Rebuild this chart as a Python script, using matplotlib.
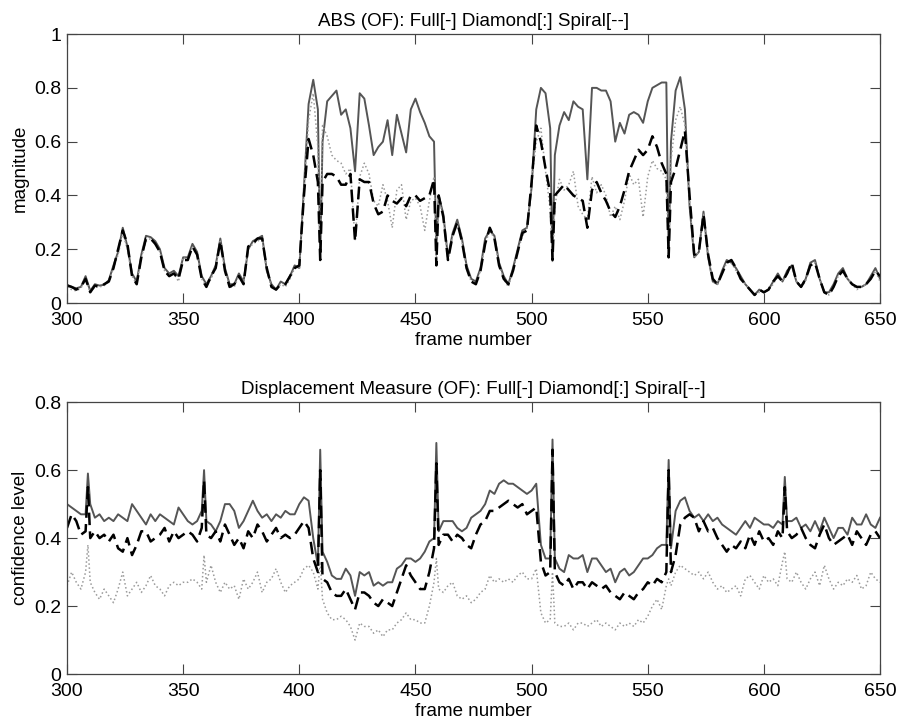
import numpy as np
import matplotlib.pyplot as plt

plt.rcParams['font.family'] = ['Liberation Sans', 'DejaVu Sans']

# frame numbers: every second frame plus the single frames where the spikes sit
top_frames = sorted(list(range(300, 651, 2)) + [409, 459, 509, 559])
bot_frames = sorted(list(range(300, 651, 2)) + [309, 359, 409, 459, 509, 559, 609])

# ABS (OF) magnitude
abs_full = [
    0.068, 0.06, 0.055, 0.06, 0.10, 0.045, 0.07, 0.065, 0.068, 0.085,
    0.14, 0.19, 0.28, 0.21, 0.11, 0.08, 0.18, 0.25, 0.245, 0.23,
    0.2, 0.13, 0.11, 0.12, 0.1, 0.17, 0.17, 0.22, 0.19, 0.1,
    0.07, 0.1, 0.14, 0.24, 0.13, 0.07, 0.07, 0.11, 0.08, 0.2,
    0.23, 0.24, 0.25, 0.12, 0.07, 0.05, 0.08, 0.07, 0.1, 0.14,
    0.13, 0.43, 0.74, 0.83, 0.72, 0.16, 0.6, 0.75, 0.77, 0.79, 0.7,
    0.72, 0.65, 0.49, 0.78, 0.76, 0.66, 0.55, 0.58, 0.6, 0.68,
    0.55, 0.7, 0.63, 0.56, 0.72, 0.76, 0.71, 0.67, 0.62, 0.6,
    0.2, 0.4, 0.33, 0.17, 0.26, 0.31, 0.24, 0.14, 0.09, 0.08, 0.13,
    0.24, 0.27, 0.25, 0.15, 0.1, 0.07, 0.13, 0.2, 0.27, 0.28,
    0.43, 0.72, 0.8, 0.78, 0.65, 0.16, 0.55, 0.66, 0.71, 0.68, 0.75,
    0.73, 0.72, 0.46, 0.8, 0.8, 0.79, 0.79, 0.75, 0.6, 0.67,
    0.63, 0.7, 0.71, 0.7, 0.67, 0.75, 0.8, 0.81, 0.82, 0.82,
    0.17, 0.6, 0.79, 0.84, 0.72, 0.36, 0.17, 0.19, 0.34, 0.17, 0.08,
    0.07, 0.12, 0.16, 0.15, 0.13, 0.1, 0.07, 0.05, 0.03, 0.05,
    0.04, 0.05, 0.08, 0.11, 0.08, 0.12, 0.14, 0.08, 0.06, 0.09,
    0.15, 0.16, 0.09, 0.04, 0.04, 0.07, 0.11, 0.13, 0.09, 0.07,
    0.06, 0.06, 0.07, 0.1, 0.13, 0.09,
]
abs_diamond = [
    0.06, 0.05, 0.045, 0.055, 0.09, 0.04, 0.06, 0.06, 0.065, 0.08,
    0.13, 0.18, 0.26, 0.2, 0.1, 0.07, 0.17, 0.23, 0.24, 0.22,
    0.19, 0.12, 0.1, 0.11, 0.08, 0.17, 0.16, 0.21, 0.18, 0.09,
    0.06, 0.09, 0.13, 0.23, 0.12, 0.06, 0.06, 0.1, 0.07, 0.2,
    0.22, 0.23, 0.24, 0.12, 0.06, 0.05, 0.07, 0.06, 0.09, 0.13,
    0.13, 0.42, 0.68, 0.78, 0.58, 0.18, 0.66, 0.62, 0.55, 0.53, 0.52,
    0.48, 0.5, 0.23, 0.47, 0.52, 0.48, 0.38, 0.36, 0.44, 0.38,
    0.28, 0.42, 0.44, 0.31, 0.38, 0.39, 0.36, 0.27, 0.38, 0.47,
    0.16, 0.39, 0.32, 0.16, 0.25, 0.3, 0.23, 0.13, 0.08, 0.07, 0.12,
    0.22, 0.27, 0.24, 0.14, 0.09, 0.06, 0.12, 0.19, 0.25, 0.27,
    0.45, 0.6, 0.65, 0.49, 0.35, 0.15, 0.36, 0.46, 0.42, 0.44, 0.49,
    0.36, 0.33, 0.31, 0.47, 0.41, 0.44, 0.4, 0.32, 0.36, 0.31,
    0.38, 0.48, 0.44, 0.46, 0.32, 0.47, 0.53, 0.5, 0.49, 0.46,
    0.17, 0.53, 0.68, 0.73, 0.66, 0.38, 0.17, 0.19, 0.33, 0.17, 0.08,
    0.07, 0.11, 0.15, 0.15, 0.12, 0.09, 0.07, 0.05, 0.03, 0.04,
    0.04, 0.05, 0.07, 0.1, 0.08, 0.11, 0.14, 0.08, 0.06, 0.08,
    0.14, 0.15, 0.09, 0.04, 0.03, 0.06, 0.1, 0.12, 0.09, 0.07,
    0.05, 0.06, 0.07, 0.09, 0.12, 0.08,
]
abs_spiral = [
    0.065, 0.06, 0.05, 0.06, 0.09, 0.04, 0.065, 0.06, 0.07, 0.08,
    0.13, 0.2, 0.27, 0.22, 0.1, 0.07, 0.17, 0.24, 0.24, 0.22,
    0.19, 0.12, 0.1, 0.11, 0.09, 0.16, 0.16, 0.21, 0.18, 0.09,
    0.06, 0.1, 0.13, 0.23, 0.12, 0.06, 0.07, 0.1, 0.07, 0.21,
    0.22, 0.24, 0.24, 0.13, 0.06, 0.05, 0.07, 0.07, 0.1, 0.13,
    0.14, 0.4, 0.61, 0.55, 0.45, 0.16, 0.45, 0.48, 0.48, 0.47, 0.44,
    0.44, 0.48, 0.23, 0.46, 0.45, 0.45, 0.37, 0.33, 0.34, 0.4,
    0.38, 0.37, 0.39, 0.36, 0.4, 0.4, 0.38, 0.39, 0.4, 0.46,
    0.14, 0.4, 0.32, 0.16, 0.25, 0.3, 0.23, 0.13, 0.08, 0.07, 0.12,
    0.22, 0.28, 0.24, 0.14, 0.09, 0.07, 0.12, 0.19, 0.26, 0.27,
    0.45, 0.66, 0.6, 0.5, 0.41, 0.16, 0.4, 0.42, 0.44, 0.42, 0.4,
    0.39, 0.38, 0.28, 0.42, 0.45, 0.41, 0.38, 0.34, 0.32, 0.36,
    0.42, 0.49, 0.53, 0.57, 0.55, 0.57, 0.62, 0.58, 0.52, 0.48,
    0.17, 0.45, 0.5, 0.57, 0.64, 0.4, 0.18, 0.19, 0.33, 0.18, 0.09,
    0.07, 0.11, 0.15, 0.16, 0.13, 0.09, 0.07, 0.05, 0.03, 0.05,
    0.04, 0.05, 0.08, 0.1, 0.08, 0.11, 0.15, 0.08, 0.06, 0.09,
    0.14, 0.15, 0.09, 0.04, 0.03, 0.06, 0.1, 0.12, 0.09, 0.07,
    0.06, 0.06, 0.07, 0.09, 0.12, 0.1,
]

# Displacement Measure (OF) confidence
dm_full = [
    0.5, 0.49, 0.48, 0.47, 0.47, 0.59,
    0.5, 0.46, 0.47, 0.45, 0.46,
    0.45, 0.47, 0.46, 0.45, 0.5, 0.48, 0.46, 0.44, 0.47, 0.45,
    0.47, 0.46, 0.45, 0.44, 0.49, 0.47, 0.45, 0.44, 0.45, 0.48,
    0.6, 0.45, 0.44, 0.42, 0.45, 0.5, 0.5, 0.48, 0.43, 0.45, 0.48,
    0.51, 0.48, 0.46, 0.47, 0.45, 0.47, 0.46, 0.48, 0.47, 0.47,
    0.5, 0.52, 0.51, 0.4, 0.32, 0.66,
    0.36, 0.33, 0.29, 0.28, 0.28,
    0.31, 0.29, 0.23, 0.3, 0.29, 0.3, 0.26, 0.27, 0.26, 0.27,
    0.27, 0.31, 0.32, 0.34, 0.34, 0.33, 0.34, 0.36, 0.39, 0.4, 0.68,
    0.42, 0.45, 0.45, 0.45, 0.43, 0.42, 0.43, 0.46, 0.47, 0.48,
    0.5, 0.54, 0.53, 0.56, 0.57, 0.56, 0.56, 0.55, 0.54, 0.53,
    0.54, 0.56, 0.38, 0.34, 0.34, 0.69,
    0.34, 0.31, 0.3, 0.35, 0.34,
    0.34, 0.35, 0.3, 0.34, 0.34, 0.32, 0.3, 0.31, 0.27, 0.3,
    0.31, 0.29, 0.3, 0.32, 0.34, 0.34, 0.35, 0.37, 0.38, 0.38, 0.63,
    0.37, 0.48, 0.51, 0.52, 0.48, 0.46, 0.47, 0.45, 0.47, 0.45,
    0.46, 0.44, 0.43, 0.42, 0.41, 0.43, 0.45, 0.43, 0.46, 0.45,
    0.44, 0.44, 0.43, 0.45, 0.44, 0.58,
    0.45, 0.45, 0.46, 0.43, 0.44,
    0.42, 0.45, 0.42, 0.46, 0.43, 0.4, 0.43, 0.43, 0.41, 0.46,
    0.44, 0.44, 0.47, 0.44, 0.43, 0.46,
]
dm_diamond = [
    0.26, 0.3, 0.27, 0.25, 0.3, 0.38,
    0.27, 0.24, 0.22, 0.25, 0.23,
    0.21, 0.25, 0.3, 0.23, 0.25, 0.27, 0.24, 0.26, 0.29, 0.26,
    0.25, 0.23, 0.26, 0.27, 0.26, 0.27, 0.27, 0.28, 0.27, 0.25,
    0.35, 0.27, 0.32, 0.27, 0.24, 0.27, 0.25, 0.26, 0.22, 0.28, 0.25,
    0.27, 0.3, 0.24, 0.27, 0.28, 0.31, 0.27, 0.24, 0.26, 0.27,
    0.28, 0.31, 0.32, 0.3, 0.25, 0.33,
    0.22, 0.18, 0.16, 0.16, 0.17,
    0.16, 0.14, 0.1, 0.15, 0.14, 0.14, 0.12, 0.13, 0.11, 0.13,
    0.13, 0.15, 0.16, 0.18, 0.16, 0.16, 0.15, 0.15, 0.2, 0.27, 0.34,
    0.25, 0.24, 0.26, 0.27, 0.23, 0.22, 0.23, 0.21, 0.22, 0.24,
    0.25, 0.29, 0.27, 0.28, 0.27, 0.28, 0.27, 0.29, 0.3, 0.28,
    0.28, 0.31, 0.18, 0.15, 0.16, 0.3,
    0.15, 0.14, 0.14, 0.15, 0.13,
    0.15, 0.15, 0.14, 0.15, 0.16, 0.14, 0.15, 0.14, 0.13, 0.15,
    0.14, 0.15, 0.14, 0.16, 0.15, 0.17, 0.2, 0.22, 0.19, 0.26, 0.28,
    0.26, 0.3, 0.32, 0.31, 0.3, 0.29, 0.3, 0.28, 0.3, 0.27,
    0.25, 0.26, 0.24, 0.25, 0.26, 0.23, 0.28, 0.29, 0.27, 0.25,
    0.29, 0.27, 0.28, 0.26, 0.33, 0.36,
    0.28, 0.27, 0.3, 0.27, 0.25,
    0.28, 0.3, 0.26, 0.32, 0.28, 0.25, 0.27, 0.26, 0.28, 0.27,
    0.29, 0.25, 0.26, 0.3, 0.28, 0.27,
]
dm_spiral = [
    0.43, 0.47, 0.45, 0.41, 0.42, 0.55,
    0.4, 0.42, 0.4, 0.41, 0.39,
    0.41, 0.37, 0.36, 0.4, 0.35, 0.38, 0.42, 0.42, 0.39, 0.4,
    0.41, 0.43, 0.39, 0.42, 0.4, 0.41, 0.42, 0.41, 0.39, 0.43,
    0.57, 0.41, 0.4, 0.42, 0.39, 0.44, 0.41, 0.38, 0.4, 0.37, 0.42,
    0.4, 0.44, 0.42, 0.39, 0.41, 0.43, 0.4, 0.41, 0.4, 0.41,
    0.43, 0.45, 0.43, 0.34, 0.3, 0.6,
    0.28, 0.27, 0.24, 0.23, 0.23,
    0.25, 0.22, 0.19, 0.24, 0.24, 0.23, 0.21, 0.2, 0.22, 0.21,
    0.2, 0.24, 0.28, 0.32, 0.29, 0.27, 0.25, 0.25, 0.3, 0.37, 0.62,
    0.38, 0.41, 0.41, 0.39, 0.41, 0.4, 0.38, 0.37, 0.41, 0.44,
    0.45, 0.48, 0.48, 0.49, 0.5, 0.51, 0.5, 0.49, 0.5, 0.47,
    0.48, 0.49, 0.33, 0.29, 0.3, 0.66,
    0.3, 0.27, 0.26, 0.28, 0.25,
    0.27, 0.27, 0.25, 0.27, 0.26, 0.25, 0.26, 0.24, 0.23, 0.22,
    0.24, 0.23, 0.22, 0.24, 0.25, 0.27, 0.26, 0.28, 0.27, 0.3, 0.6,
    0.3, 0.35, 0.44, 0.46, 0.47, 0.46, 0.42, 0.45, 0.42, 0.43,
    0.4, 0.38, 0.36, 0.38, 0.37, 0.39, 0.37, 0.41, 0.38, 0.42,
    0.39, 0.4, 0.38, 0.42, 0.4, 0.55,
    0.42, 0.4, 0.41, 0.43, 0.4,
    0.38, 0.37, 0.41, 0.44, 0.4, 0.38, 0.39, 0.4, 0.41, 0.38,
    0.42, 0.4, 0.38, 0.41, 0.42, 0.4,
]

assert len(abs_full) == len(abs_diamond) == len(abs_spiral) == len(top_frames)
assert len(dm_full) == len(dm_diamond) == len(dm_spiral) == len(bot_frames)

fig = plt.figure(figsize=(8.97, 7.25), dpi=100)
ax1 = fig.add_axes([0.0747, 0.582, 0.9064, 0.371])
ax2 = fig.add_axes([0.0747, 0.0703, 0.9064, 0.375])


def draw(ax, x, full, diamond, spiral, title, ylabel, ylim, yticks):
    ax.plot(x, full, '-', color='#555555', lw=1.4)
    ax.plot(x, diamond, ':', color='#9a9a9a', lw=1.1)
    ax.plot(x, spiral, '--', color='black', lw=1.8, dashes=(5, 2.5))
    ax.set_xlim(300, 650)
    ax.set_ylim(*ylim)
    ax.set_xticks(range(300, 651, 50))
    ax.set_yticks(yticks)
    ax.set_yticklabels(['%g' % t for t in yticks])
    ax.tick_params(direction='in', length=7, width=0.8, color='#444444',
                   labelsize=14, top=True, right=True)
    ax.tick_params(axis='x', pad=6.5)
    ax.tick_params(axis='y', pad=4)
    for s in ax.spines.values():
        s.set_color('#444444')
        s.set_linewidth(0.9)
    ax.set_title(title, fontsize=13.5, pad=6)
    ax.set_xlabel('frame number', fontsize=13.5, labelpad=2)
    ax.set_ylabel(ylabel, fontsize=13.5, labelpad=4)


draw(ax1, top_frames, abs_full, abs_diamond, abs_spiral,
     'ABS (OF): Full[-] Diamond[:] Spiral[--]', 'magnitude',
     (0, 1), [0, 0.2, 0.4, 0.6, 0.8, 1])
draw(ax2, bot_frames, dm_full, dm_diamond, dm_spiral,
     'Displacement Measure (OF): Full[-] Diamond[:] Spiral[--]', 'confidence level',
     (0, 0.8), [0, 0.2, 0.4, 0.6, 0.8])

fig.savefig('out.png', dpi=100)
